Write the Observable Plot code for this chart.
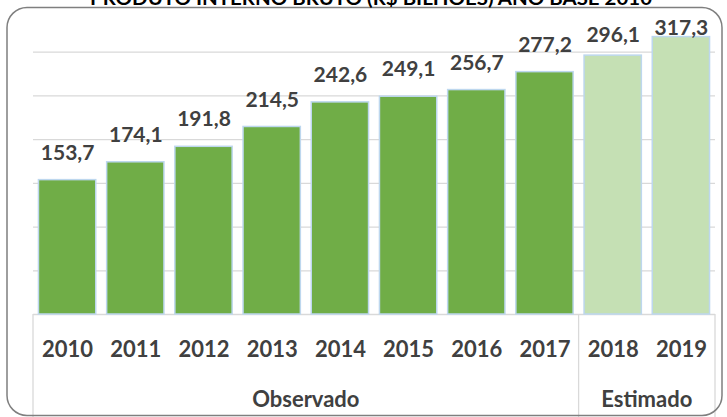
<!DOCTYPE html>
<html><head><meta charset="utf-8">
<script src="https://cdn.jsdelivr.net/npm/d3@7"></script>
<script src="https://cdn.jsdelivr.net/npm/@observablehq/plot@0.6"></script>
<style>body{margin:0;background:#fff;} svg{display:block}</style>
</head><body><div id="chart"></div>
<script>
const title = "PRODUTO INTERNO BRUTO (R$ BILHÕES) ANO BASE 2010";
const years = ["2010","2011","2012","2013","2014","2015","2016","2017","2018","2019"];
const values = [153.7,174.1,191.8,214.5,242.6,249.1,256.7,277.2,296.1,317.3];
const groups = ["Observado","Observado","Observado","Observado","Observado","Observado","Observado","Observado","Estimado","Estimado"];
const groupNames = ["Observado","Estimado"];
const yTicks = [0,50,100,150,200,250,300];

const data = years.map((y,i)=>({year:y, value:values[i], group:groups[i]}));
const W = 727, H = 417;
const fmt = v => v.toFixed(1).replace(".", ",");

const plot = Plot.plot({
  width: W, height: H,
  marginLeft: 33, marginRight: 12, marginTop: 8, marginBottom: 103,
  style: {fontFamily: "Lato, 'Open Sans', sans-serif", background: "#fff", overflow: "visible"},
  x: {domain: years, paddingInner: 0.16, paddingOuter: 0.08, round: false, axis: null},
  y: {domain: [0, 350], axis: null},
  color: {domain: groupNames, range: ["#70ad47", "#c5e0b4"]},
  marks: [
    Plot.gridY(yTicks, {stroke: "#d9d9d9", strokeOpacity: 1, strokeWidth: 1.3}),
    Plot.barY(data, {x: "year", y: "value", fill: "group", stroke: "#bdd7ee", strokeWidth: 1.5}),
    Plot.text(data, {
      x: "year",
      y: d => d.value + Math.min(31, (335 - d.value) * 0.6),
      text: d => fmt(d.value),
      fontSize: 21, fontWeight: "bold", fill: "#404040"
    }),
    Plot.text(data, {x: "year", frameAnchor: "bottom", lineAnchor: "middle", dy: 35, text: "year",
      fontSize: 22, fontWeight: "bold", fill: "#404040"})
  ]
});

const svg = d3.select(plot);
const xs = plot.scale("x");
const ys = plot.scale("y");
const x0 = xs.range[0], x1 = xs.range[1];
const step = (x1 - x0) / years.length;
const yBase = ys.apply(0);

// category axis box lines
const boundaries = [0];
groupNames.forEach(g => boundaries.push(groups.lastIndexOf(g) + 1));
const g = svg.append("g").attr("stroke", "#d9d9d9").attr("stroke-width", 1.3);
boundaries.forEach(k => {
  g.append("line").attr("x1", x0 + k*step).attr("x2", x0 + k*step)
    .attr("y1", yBase).attr("y2", H + 5);
});

// group labels
groupNames.forEach(name => {
  const a = groups.indexOf(name), b = groups.lastIndexOf(name) + 1;
  svg.append("text")
    .attr("x", x0 + (a + b) / 2 * step)
    .attr("y", yBase + 93)
    .attr("text-anchor", "middle")
    .attr("font-size", 22).attr("font-weight", "bold").attr("fill", "#404040")
    .text(name);
});

// outer rounded frame
svg.append("rect").attr("x", 7).attr("y", 7.5).attr("width", 715).attr("height", 408)
  .attr("rx", 20).attr("fill", "none").attr("stroke", "#7f7f7f").attr("stroke-width", 1.5);

// title (partly cut off at top, as in the reference)
svg.append("text").attr("x", 371).attr("y", 5)
  .attr("text-anchor", "middle").attr("font-size", 19).attr("font-weight", "bold")
  .attr("fill", "#000").attr("textLength", 562).attr("lengthAdjust", "spacingAndGlyphs")
  .text(title);

document.getElementById("chart").appendChild(plot);
</script>
</body></html>
